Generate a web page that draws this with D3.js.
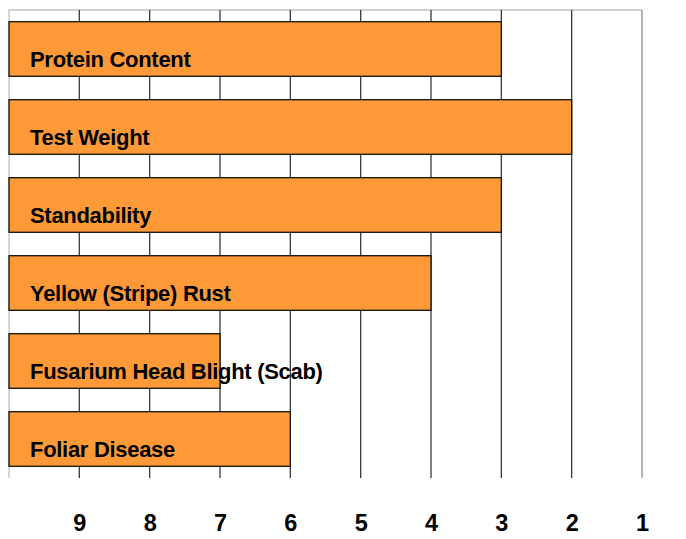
<!DOCTYPE html>
<html>
<head>
<meta charset="utf-8">
<script src="https://cdn.jsdelivr.net/npm/d3@7"></script>
<style>
  body { margin: 0; background: #fff; }
  text { font-family: "Liberation Sans", Arial, sans-serif; }
</style>
</head>
<body>
<div id="chart"></div>
<script>
var categories = ["Protein Content", "Test Weight", "Standability", "Yellow (Stripe) Rust", "Fusarium Head Blight (Scab)", "Foliar Disease"];
var values = [3, 2, 3, 4, 7, 6];
var tickValues = [9, 8, 7, 6, 5, 4, 3, 2, 1];

var width = 686, height = 539;
var plotLeft = 9, plotRight = 642, plotTop = 10, plotBottom = 478;

var svg = d3.select("#chart").append("svg")
  .attr("width", width)
  .attr("height", height);

// reversed scale: 10 at left edge, 1 at right edge
var x = d3.scaleLinear().domain([10, 1]).range([plotLeft, plotRight]);
var y = d3.scaleBand().domain(categories).range([plotTop, plotBottom]).paddingInner(0.3).paddingOuter(0.15);

// frame
svg.append("line")
  .attr("x1", plotLeft).attr("x2", plotRight).attr("y1", plotTop).attr("y2", plotTop)
  .attr("stroke", "#d0d0d0").attr("stroke-width", 2);
svg.append("line")
  .attr("x1", plotLeft).attr("x2", plotLeft).attr("y1", plotTop).attr("y2", plotBottom)
  .attr("stroke", "#c8c8c8").attr("stroke-width", 1.5);

// vertical grid lines
svg.append("g")
  .selectAll("line")
  .data(tickValues)
  .enter().append("line")
  .attr("x1", d => x(d)).attr("x2", d => x(d))
  .attr("y1", plotTop).attr("y2", plotBottom)
  .attr("stroke", d => d === 1 ? "#8a8a8a" : "#3a3a3a")
  .attr("stroke-width", 1.3);

// bars
svg.append("g")
  .selectAll("rect")
  .data(categories)
  .enter().append("rect")
  .attr("x", plotLeft)
  .attr("y", d => y(d))
  .attr("width", (d, i) => x(values[i]) - plotLeft)
  .attr("height", y.bandwidth())
  .attr("fill", "#FD9A37")
  .attr("stroke", "#111")
  .attr("stroke-width", 1.3);

// bar labels
svg.append("g")
  .selectAll("text")
  .data(categories)
  .enter().append("text")
  .attr("x", 30)
  .attr("y", d => y(d) + y.bandwidth() - 9.5)
  .attr("font-size", 22)
  .attr("font-weight", "bold")
  .attr("letter-spacing", -0.3)
  .attr("fill", "#000")
  .text(d => d);

// x axis labels
var xAxis = d3.axisBottom(x).tickValues(tickValues).tickSize(0).tickPadding(0);
var gx = svg.append("g")
  .attr("transform", "translate(0," + plotBottom + ")")
  .call(xAxis);
gx.select(".domain").remove();
gx.selectAll("text")
  .attr("y", 53)
  .attr("dy", 0)
  .attr("font-size", 23.5)
  .attr("font-weight", "bold")
  .attr("fill", "#000");
</script>
</body>
</html>
